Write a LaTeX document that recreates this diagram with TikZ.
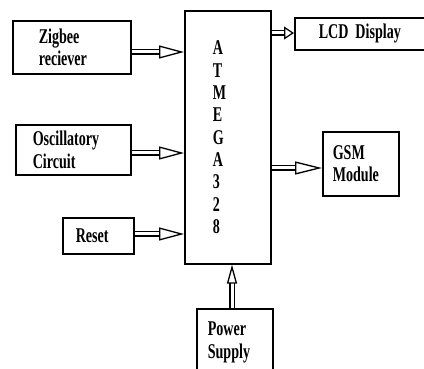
\documentclass[tikz,border=0pt]{standalone}
\usepackage{fontspec}
\setmainfont{Liberation Serif}[FakeStretch=0.67]
\usetikzlibrary{positioning,arrows.meta,calc}

\begin{document}
\begin{tikzpicture}[
  x=1pt, y=-1pt,
  font=\fontsize{21}{22.3}\selectfont\bfseries,
  blk/.style={draw, line width=1.6pt, anchor=north west, inner sep=0pt, align=left},
  dbl/.style={double, double distance=3pt, line width=1.3pt,
    -{Triangle[open, length=#1, width=13pt, line width=1.3pt]}},
  dbl/.default=25pt,
  updbl/.style={double, double distance=3pt, line width=1.3pt,
    -{Triangle[open, length=19pt, width=10pt, line width=1.3pt]}}
]

% frame of the picture
\useasboundingbox (0,0) rectangle (424,369);
\clip (0,0) rectangle (424,369);

% Blocks (placed at their top left corners)
\node[blk, minimum width=118pt, minimum height=53pt, text width=66pt] (zig) at (12,20) {Zigbee\\reciever};
\node[blk, minimum width=115pt, minimum height=50pt, text width=81pt] (osc) at (15,124) {Oscillatory\\Circuit};
\node[blk, minimum width=71pt, minimum height=36pt, text width=45pt] (rst) at (62,217) {Reset};
\node[blk, minimum width=86pt, minimum height=253pt, text width=30pt] (atm) at (184,10) {A\\T\\M\\E\\G\\A\\3\\2\\8};
\node[blk, minimum width=140pt, minimum height=32pt, text width=92pt] (lcd) at (294,17) {LCD Display};
\node[blk, minimum width=76pt, minimum height=64pt, text width=56pt] (gsm) at (322,131) {GSM\\Module};
\node[blk, minimum width=76pt, minimum height=67pt, text width=54pt] (pwr) at (196,308) {Power\\Supply};

% Inputs -> ATMEGA
\draw[dbl] (zig.east |- 0,52) -- (atm.west |- 0,52);
\draw[dbl] (osc.east |- 0,153) -- (atm.west |- 0,153);
\draw[dbl] (rst.east |- 0,234) -- (atm.west |- 0,234);

% ATMEGA -> outputs
\draw[dbl=10pt] (atm.east |- 0,33) -- (lcd.west |- 0,33);
\draw[dbl=27pt] (atm.east |- 0,168) -- (gsm.west |- 0,168);

% Power
\draw[updbl] (pwr.north -| 232,0) -- (atm.south -| 232,0);

\end{tikzpicture}
\end{document}
